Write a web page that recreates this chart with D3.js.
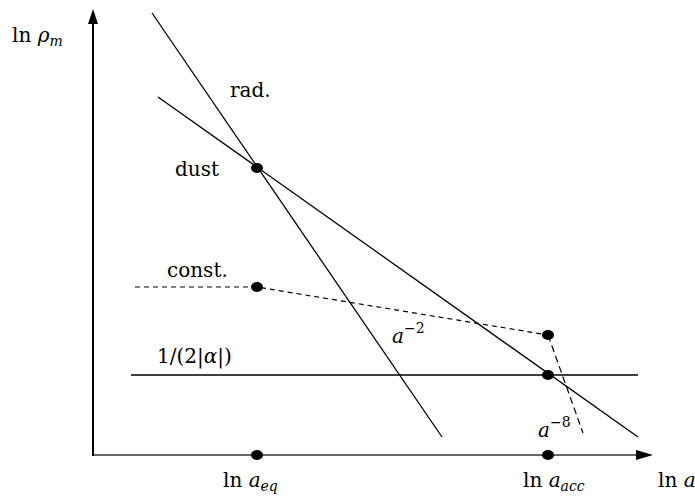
<!DOCTYPE html>
<html>
<head>
<meta charset="utf-8">
<script src="https://cdn.jsdelivr.net/npm/d3@7"></script>
<style>
  body { margin: 0; background: #fff; }
</style>
</head>
<body>
<svg id="chart" width="695" height="497"></svg>
<script>
// schematic ln(rho) vs ln(a), arbitrary units
const X_EQ = 3.28, X_ACC = 9.1;
const radLine = [[1.18, 8.84], [6.98, 0.36]];
const dustLine = [[1.3, 7.16], [10.9, 0.36]];
const constLine = [[0.84, 3.36], [3.28, 3.36], [9.1, 2.4]];
const steepLine = [[9.1, 2.4], [9.8, 0.44]];
const alphaLine = [[0.76, 1.6], [10.9, 1.6]];
const dots = [[X_EQ, 5.74], [X_EQ, 3.36], [X_ACC, 2.4], [X_ACC, 1.6], [X_EQ, 0], [X_ACC, 0]];

const FONT = "'DejaVu Serif', serif";

const svg = d3.select('#chart');
const x = d3.scaleLinear().domain([0, 11.2]).range([93, 653]);
const y = d3.scaleLinear().domain([0, 8.92]).range([455, 9]);
const line = d3.line().x(d => x(d[0])).y(d => y(d[1]));

// axes (no ticks, just arrows)
svg.append('line')
  .attr('x1', x(0)).attr('y1', y(0)).attr('x2', x(11.2) - 12).attr('y2', y(0))
  .attr('stroke', '#666').attr('stroke-width', 2);
svg.append('line')
  .attr('x1', x(0)).attr('y1', y(0) + 1).attr('x2', x(0)).attr('y2', y(8.92) + 12)
  .attr('stroke', '#000').attr('stroke-width', 2);
svg.append('path')
  .attr('d', `M${x(11.2)},${y(0)} L${x(11.2) - 17},${y(0) - 5} L${x(11.2) - 17},${y(0) + 5} Z`)
  .attr('fill', '#000');
svg.append('path')
  .attr('d', `M${x(0)},${y(8.92)} L${x(0) - 5},${y(8.92) + 15} L${x(0) + 5},${y(8.92) + 15} Z`)
  .attr('fill', '#000');

// solid lines
[radLine, dustLine, alphaLine].forEach(l => {
  svg.append('path').attr('d', line(l))
    .attr('fill', 'none').attr('stroke', '#000').attr('stroke-width', 1.3);
});

// dashed lines
svg.append('path').attr('d', line(constLine))
  .attr('fill', 'none').attr('stroke', '#000').attr('stroke-width', 1.2)
  .attr('stroke-dasharray', '5,4');
svg.append('path').attr('d', line(steepLine))
  .attr('fill', 'none').attr('stroke', '#000').attr('stroke-width', 1.2)
  .attr('stroke-dasharray', '7,4');

svg.selectAll('.dot')
  .data(dots)
  .join('ellipse')
  .attr('class', 'dot')
  .attr('cx', d => x(d[0])).attr('cy', d => y(d[1]))
  .attr('rx', 6).attr('ry', 5)
  .attr('fill', '#000');

// labels: [x, y, parts]; part = [text, italic, shift]
const labels = [
  [12, 42, [['ln ', 0, 0], ['ρ', 1, 0], ['m', 1, 1]]],
  [230, 97, [['rad.', 0, 0]]],
  [175, 176, [['dust', 0, 0]]],
  [167, 277, [['const.', 0, 0]]],
  [157, 363, [['1/(2|', 0, 0], ['α', 1, 0], ['|)', 0, 0]]],
  [392, 343, [['a', 1, 0], ['−2', 0, -1]]],
  [538, 437, [['a', 1, 0], ['−8', 0, -1]]],
  [223, 487, [['ln ', 0, 0], ['a', 1, 0], ['eq', 1, 1]]],
  [523, 487, [['ln ', 0, 0], ['a', 1, 0], ['acc', 1, 1]]],
  [658, 487, [['ln ', 0, 0], ['a', 1, 0]]]
];

labels.forEach(([lx, ly, parts]) => {
  const t = svg.append('text').attr('x', lx).attr('y', ly)
    .attr('font-family', FONT)
    .attr('font-size', 20);
  let shift = 0;
  parts.forEach(([s, it, sh]) => {
    const ts = t.append('tspan').text(s)
      .attr('font-style', it ? 'italic' : 'normal');
    const dy = sh === 1 ? 4 : sh === -1 ? -10 : 0;
    if (dy - shift !== 0) ts.attr('dy', dy - shift);
    shift = dy;
    if (sh !== 0) ts.attr('font-size', 14);
  });
});
</script>
</body>
</html>
